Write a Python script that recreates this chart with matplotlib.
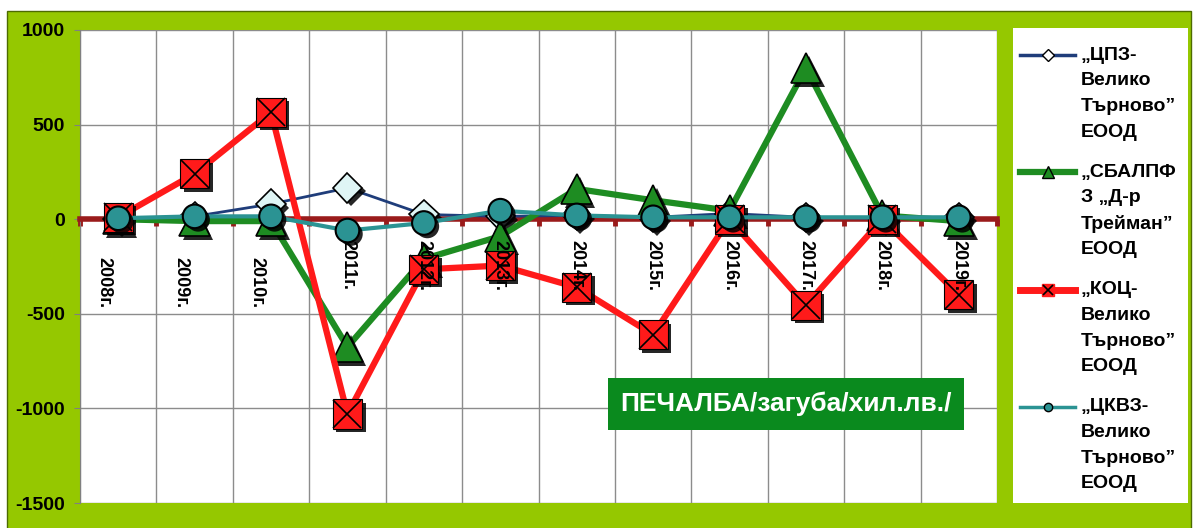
import numpy as np
import matplotlib
matplotlib.use('Agg')
import matplotlib.pyplot as plt
import matplotlib.patheffects as pe
import matplotlib.transforms as mtransforms
from matplotlib.patches import Rectangle
from matplotlib.lines import Line2D

plt.rcParams['font.family'] = ['Liberation Sans', 'DejaVu Sans']
plt.rcParams['axes.unicode_minus'] = False

# data (thousand BGN)
years = ['2008г.', '2009г.', '2010г.', '2011г.', '2012г.', '2013г.',
         '2014г.', '2015г.', '2016г.', '2017г.', '2018г.', '2019г.']
cpz = [0, 15, 80, 165, 25, 15, 20, 10, 30, 10, 5, 10]
sbalpfz = [0, -10, -10, -675, -210, -90, 160, 100, 45, 800, 20, -10]
koc = [10, 240, 565, -1030, -265, -245, -360, -610, 0, -455, 0, -400]
ckvz = [5, 15, 15, -60, -20, 45, 20, 10, 10, 10, 10, 10]

legend_labels = [
    ['„ЦПЗ-', 'Велико', 'Търново”', 'ЕООД'],
    ['„СБАЛПФ', 'З „Д-р', 'Трейман”', 'ЕООД'],
    ['„КОЦ-', 'Велико', 'Търново”', 'ЕООД'],
    ['„ЦКВЗ-', 'Велико', 'Търново”', 'ЕООД'],
]
title_text = 'ПЕЧАЛБА/загуба/хил.лв./'

LIME = '#95c800'
BLUE = '#1f3d7a'
GREEN = '#1e8c22'
RED = '#ff1a1a'
TEAL = '#2b9393'
AXIS_RED = '#9a1b1b'

W, H = 1195, 528
fig = plt.figure(figsize=(W / 100, H / 100), dpi=100)
fig.patch.set_facecolor('white')


def fx(px):
    return px / W


def fy(py):
    return 1 - py / H


def fig_rect(x0, y0, x1, y1, **kw):
    r = Rectangle((fx(x0), fy(y1)), fx(x1) - fx(x0), fy(y0) - fy(y1),
                  transform=fig.transFigure, **kw)
    fig.add_artist(r)
    return r


# green panel behind everything
fig_rect(7, 11, 1191, 529, facecolor=LIME, edgecolor='#4d6b00', lw=1, zorder=0)

ax = fig.add_axes([fx(80), fy(503), fx(997) - fx(80), fy(30) - fy(503)])
ax.set_facecolor('white')
x = np.arange(len(years)) + 0.5
ax.set_xlim(0, len(years))
ax.set_ylim(-1500, 1000)
ax.set_xticks(np.arange(len(years) + 1))
ax.set_yticks(np.arange(-1500, 1001, 500))
ax.grid(True, color='#8c8c8c', lw=1)
ax.set_axisbelow(True)

ax.spines['bottom'].set_position(('data', 0))
ax.spines['bottom'].set_color(AXIS_RED)
ax.spines['bottom'].set_linewidth(4)
ax.spines['top'].set_visible(False)
ax.spines['right'].set_visible(False)
ax.spines['left'].set_color('#808080')
ax.tick_params(axis='x', direction='out', length=5, width=3.5,
               color=AXIS_RED, labelbottom=False)
ax.tick_params(axis='y', length=4, color='#808080', pad=7, labelsize=14)
for lbl in ax.get_yticklabels():
    lbl.set_fontweight('bold')

shadow = [pe.SimplePatchShadow(offset=(2.5, -2.5), shadow_rgbFace='black', alpha=0.85),
          pe.Normal()]

# series in Excel order: each line then its markers
ax.plot(x, cpz, color=BLUE, lw=2, zorder=3)
ax.plot(x, cpz, ls='none', marker='D', ms=15, mfc='#dff5f5', mec='black',
        mew=1.2, zorder=3.1, path_effects=shadow)

ax.plot(x, sbalpfz, color=GREEN, lw=4.5, zorder=4)
ax.plot(x, sbalpfz, ls='none', marker='^', ms=22, mfc=GREEN, mec='black',
        mew=1.2, zorder=4.1, path_effects=shadow)

ax.plot(x, koc, color=RED, lw=4.5, zorder=5)
ax.plot(x, koc, ls='none', marker='s', ms=21, mfc=RED, mec='black',
        mew=0.8, zorder=5.1, path_effects=shadow)
ax.plot(x, koc, ls='none', marker='x', ms=20, mec='black', mew=1.2, zorder=5.2)

ax.plot(x, ckvz, color=TEAL, lw=3, zorder=6)
ax.plot(x, ckvz, ls='none', marker='o', ms=17, mfc=TEAL, mec='black',
        mew=1.5, zorder=6.1, path_effects=shadow)

# category labels hang below the zero line, first three were nudged in the original
for i, (xi, lab) in enumerate(zip(x, years)):
    dx, dy = (-14, -38) if i < 3 else (0, -21)
    tr = ax.transData + mtransforms.ScaledTranslation(dx / 100, dy / 100, fig.dpi_scale_trans)
    ax.text(xi, 0, lab, rotation=-90, ha='center', va='top', fontsize=13,
            fontweight='bold', transform=tr, zorder=10)

# title box
fig_rect(608, 378, 964, 430, facecolor='#0a8a1e', edgecolor='none', zorder=20)
fig.text(fx(786), fy(404), title_text, color='white', fontsize=19,
         fontweight='bold', ha='center', va='center', zorder=21)

# legend
fig_rect(1013, 28, 1188, 503, facecolor='white', edgecolor='none', zorder=1)
leg_styles = [
    dict(color=BLUE, lw=2.5, marker='D', ms=6, mfc='white', mec='black', mew=1),
    dict(color=GREEN, lw=4.5, marker='^', ms=8, mfc=GREEN, mec='black', mew=1),
    dict(color=RED, lw=5, marker='s', ms=8, mfc=RED, mec=RED, mew=1),
    dict(color=TEAL, lw=2.5, marker='o', ms=6, mfc=TEAL, mec='black', mew=1),
]
for k, (lines, st) in enumerate(zip(legend_labels, leg_styles)):
    y0 = 55 + k * 117.3
    fig.add_artist(Line2D([fx(1020), fx(1075)], [fy(y0), fy(y0)],
                          transform=fig.transFigure, zorder=2,
                          **{kk: v for kk, v in st.items() if kk in ('color', 'lw')}))
    fig.add_artist(Line2D([fx(1047.5)], [fy(y0)], transform=fig.transFigure, ls='none',
                          zorder=3, **{kk: v for kk, v in st.items() if kk not in ('color', 'lw')}))
    if k == 2:
        fig.add_artist(Line2D([fx(1047.5)], [fy(y0)], transform=fig.transFigure, ls='none',
                              marker='x', ms=7, mec='black', mew=1.2, zorder=4))
    for j, line in enumerate(lines):
        fig.text(fx(1081), fy(y0 + j * 25.7), line, fontsize=14, fontweight='bold',
                 ha='left', va='center', zorder=5)

fig.savefig('out.png', dpi=100, facecolor=fig.get_facecolor())
